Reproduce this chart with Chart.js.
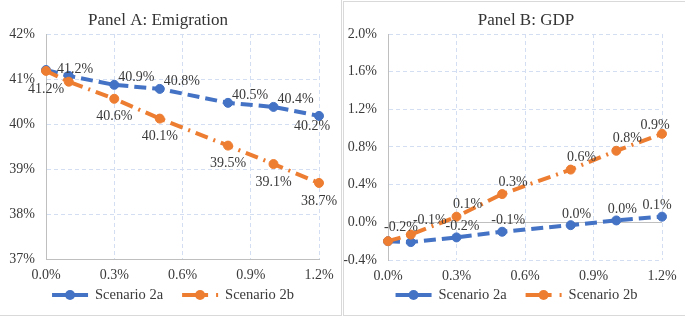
<!DOCTYPE html>
<html>
<head>
<meta charset="utf-8">
<script src="https://cdn.jsdelivr.net/npm/chart.js@4.4.0/dist/chart.umd.min.js"></script>
<style>
  body { margin: 0; background: #fff; width: 685px; height: 318px; overflow: hidden; position: relative; }
  canvas { position: absolute; top: 0; }
  .frame { position: absolute; border: 1px solid #d9d9d9; box-sizing: border-box; }
</style>
</head>
<body>
<div class="frame" style="left:-1px;top:-1px;width:343px;height:317px"></div>
<div class="frame" style="left:343px;top:1px;width:344px;height:315px"></div>
<canvas id="chartA" width="342" height="318" style="left:0"></canvas>
<canvas id="chartB" width="341" height="318" style="left:344px"></canvas>
<script>
// shock size on the x axis (%)
const xShocks = [0, 0.1, 0.3, 0.5, 0.8, 1.0, 1.2];
const xTicks = [0, 0.3, 0.6, 0.9, 1.2];

// Panel A: emigration (%)
const emigration2a = [41.2, 41.07, 40.87, 40.78, 40.47, 40.38, 40.18];
const emigration2b = [41.18, 40.94, 40.56, 40.12, 39.52, 39.11, 38.69];
const emigTicks = [37, 38, 39, 40, 41, 42];

// Panel B: GDP (%)
const gdp2a = [-0.2, -0.21, -0.16, -0.1, -0.03, 0.02, 0.06];
const gdp2b = [-0.2, -0.13, 0.06, 0.3, 0.56, 0.76, 0.94];
const gdpTicks = [-0.4, 0, 0.4, 0.8, 1.2, 1.6, 2.0];

const seriesNames = ['Scenario 2a', 'Scenario 2b'];

const BLUE = '#4472c4';
const ORANGE = '#ed7d31';
const GRID = '#d3def2';
const AXIS = '#bfbfbf';
const TEXT = '#3a3a3a';
const FONT = '"Liberation Serif", "Times New Roman", serif';

Chart.defaults.font.family = FONT;
Chart.defaults.color = TEXT;

function pct(v) {
  if (Math.abs(v) < 0.05) v = 0;
  return v.toFixed(1) + '%';
}

// titles, data labels and the line+marker legend
const panelDecor = {
  id: 'panelDecor',
  afterDatasetsDraw(chart, args, opts) {
    const ctx = chart.ctx;
    ctx.save();
    ctx.font = '14px ' + FONT;
    ctx.fillStyle = TEXT;
    ctx.textAlign = 'center';
    ctx.textBaseline = 'middle';
    chart.data.datasets.forEach((ds, di) => {
      const lp = opts.labels[di];
      chart.getDatasetMeta(di).data.forEach((pt, i) => {
        if (lp.skip.includes(i)) return;
        const o = (lp.at && lp.at[i]) || lp;
        ctx.fillText(lp.fmt(ds.data[i].y), pt.x + o.dx, pt.y + o.dy);
      });
    });
    ctx.restore();
  },
  afterDraw(chart, args, opts) {
    const ctx = chart.ctx;
    ctx.save();
    // title
    ctx.font = '17px ' + FONT;
    ctx.fillStyle = '#333';
    ctx.textAlign = 'center';
    ctx.textBaseline = 'alphabetic';
    ctx.fillText(opts.title, opts.titleX, 25);

    // legend
    ctx.font = '14.5px ' + FONT;
    const items = chart.data.datasets.map(ds => ({ ds, w: ctx.measureText(ds.label).width }));
    const total = items.reduce((s, it) => s + 36 + 7 + it.w, 0) + 19;
    let x = chart.width / 2 + 2 - total / 2;
    const y = 295;
    items.forEach(it => {
      const ds = it.ds;
      ctx.strokeStyle = ds.borderColor;
      ctx.lineWidth = ds.borderWidth;
      ctx.setLineDash(ds.legendDash);
      ctx.beginPath();
      ctx.moveTo(x, y);
      ctx.lineTo(x + 36, y);
      ctx.stroke();
      ctx.setLineDash([]);
      ctx.fillStyle = ds.borderColor;
      ctx.beginPath();
      ctx.arc(x + 18, y, 5, 0, Math.PI * 2);
      ctx.fill();
      ctx.fillStyle = TEXT;
      ctx.textAlign = 'left';
      ctx.textBaseline = 'middle';
      ctx.fillText(ds.label, x + 43, y);
      x += 36 + 7 + it.w + 19;
    });
    ctx.restore();
  }
};

function series(name, values, color, dash, legendDash, order) {
  return {
    label: name,
    data: xShocks.map((x, i) => ({ x: x, y: values[i] })),
    borderColor: color,
    backgroundColor: color,
    borderWidth: 4,
    borderDash: dash,
    legendDash: legendDash,
    pointRadius: 4.5,
    pointBackgroundColor: color,
    pointBorderColor: color,
    pointBorderWidth: 1,
    tension: 0,
    clip: false,
    order: order
  };
}

function makeChart(id, cfg) {
  return new Chart(document.getElementById(id), {
    type: 'line',
    data: {
      datasets: [
        series(seriesNames[0], cfg.s2a, BLUE, [12, 6], [14, 8, 14, 0], 1),
        series(seriesNames[1], cfg.s2b, ORANGE, [13, 6, 2, 6], [26, 8, 2, 100], 0)
      ]
    },
    options: {
      responsive: false,
      animation: false,
      devicePixelRatio: 1,
      layout: { padding: { top: 34, right: cfg.padRight, left: 0, bottom: 0 } },
      plugins: {
        legend: { display: false },
        title: { display: false },
        tooltip: { enabled: false },
        panelDecor: { title: cfg.title, titleX: cfg.titleX, labels: cfg.labels }
      },
      scales: {
        x: {
          type: 'linear',
          min: 0, max: 1.2,
          afterBuildTicks: s => { s.ticks = xTicks.map(v => ({ value: v })); },
          afterFit: s => { s.height = cfg.xHeight; },
          ticks: { callback: v => v.toFixed(1) + '%', padding: 8, font: { size: 14 }, maxRotation: 0 },
          grid: { color: GRID, lineWidth: 1, drawTicks: false },
          border: { display: cfg.xBorder, color: AXIS, width: 1, dash: [4, 3] }
        },
        y: {
          type: 'linear',
          min: cfg.yTicks[0], max: cfg.yTicks[cfg.yTicks.length - 1],
          afterBuildTicks: s => { s.ticks = cfg.yTicks.map(v => ({ value: v })); },
          afterFit: s => { s.width = cfg.yWidth; },
          ticks: { callback: cfg.yFmt, padding: 11, font: { size: 14 } },
          grid: {
            color: c => (cfg.zeroLine && c.tick && c.tick.value === 0) ? AXIS : GRID,
            lineWidth: 1,
            drawTicks: false
          },
          border: {
            display: true, color: AXIS, width: 1,
            dash: c => (cfg.zeroLine && c.tick && c.tick.value === 0) ? [] : [4, 3]
          }
        }
      }
    },
    plugins: [panelDecor]
  });
}

makeChart('chartA', {
  s2a: emigration2a, s2b: emigration2b, yTicks: emigTicks,
  yFmt: v => v + '%',
  title: 'Panel A: Emigration', titleX: 158,
  yWidth: 46, xHeight: 59, padRight: 23, xBorder: true, zeroLine: false,
  labels: [
    { fmt: v => v.toFixed(1) + '%', dx: 22, dy: -8, skip: [1],
      at: { 0: { dx: 29, dy: -1 }, 6: { dx: -7, dy: 10 } } },
    { fmt: v => v.toFixed(1) + '%', dx: 0, dy: 18, skip: [1] }
  ]
});

makeChart('chartB', {
  s2a: gdp2a, s2b: gdp2b, yTicks: gdpTicks,
  yFmt: v => v.toFixed(1) + '%',
  title: 'Panel B: GDP', titleX: 182,
  yWidth: 44, xHeight: 58, padRight: 23, xBorder: false, zeroLine: true,
  labels: [
    { fmt: pct, dx: 6, dy: -11, skip: [0, 1], at: { 6: { dx: -5, dy: -11 } } },
    { fmt: pct, dx: 11, dy: -12, skip: [], at: { 0: { dx: 13, dy: -14 }, 1: { dx: 19, dy: -14 }, 6: { dx: -7, dy: -8 } } }
  ]
});
</script>
</body>
</html>
